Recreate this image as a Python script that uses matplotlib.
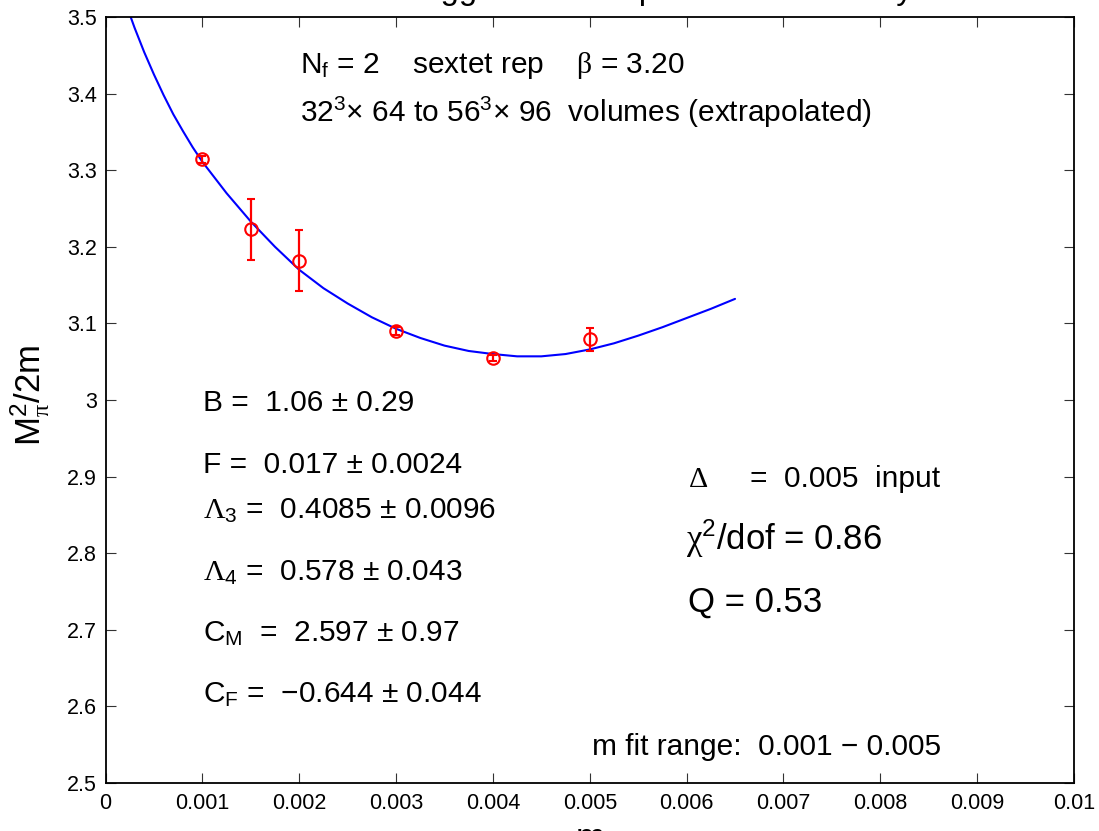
import matplotlib
matplotlib.use("Agg")
import matplotlib.pyplot as plt

plt.rcParams['font.family'] = ['Liberation Sans', 'DejaVu Sans']
plt.rcParams['mathtext.fontset'] = 'custom'
plt.rcParams['mathtext.rm'] = 'Liberation Sans'
plt.rcParams['mathtext.it'] = 'Liberation Sans:italic'
plt.rcParams['mathtext.bf'] = 'Liberation Sans:bold'
plt.rcParams['mathtext.sf'] = 'Liberation Serif'

# Data points with errors
data_m = [0.001, 0.0015, 0.002, 0.003, 0.004, 0.005]
data_y = [3.314, 3.223, 3.182, 3.090, 3.055, 3.079]
data_err = [0.004, 0.040, 0.040, 0.005, 0.004, 0.015]

# Fit curve
fit_m = [0.00026, 0.0003, 0.0004, 0.0005, 0.0006, 0.0007, 0.0008, 0.0009,
         0.001, 0.00125, 0.0015, 0.00175, 0.002, 0.00225, 0.0025, 0.00275,
         0.003, 0.00325, 0.0035, 0.00375, 0.004, 0.00425, 0.0045, 0.00475,
         0.005, 0.00525, 0.0055, 0.00575, 0.006, 0.00625, 0.0065]
fit_y = [3.500, 3.486, 3.454, 3.425, 3.398, 3.373, 3.351, 3.330,
         3.311, 3.270, 3.233, 3.200, 3.170, 3.146, 3.126, 3.108,
         3.093, 3.081, 3.071, 3.064, 3.060, 3.057, 3.057, 3.060,
         3.066, 3.074, 3.084, 3.095, 3.107, 3.119, 3.132]

xticks = [0, 0.001, 0.002, 0.003, 0.004, 0.005, 0.006, 0.007, 0.008, 0.009, 0.01]
xticklabels = ['0', '0.001', '0.002', '0.003', '0.004', '0.005', '0.006',
               '0.007', '0.008', '0.009', '0.01']
yticks = [2.5, 2.6, 2.7, 2.8, 2.9, 3.0, 3.1, 3.2, 3.3, 3.4, 3.5]
yticklabels = ['2.5', '2.6', '2.7', '2.8', '2.9', '3', '3.1', '3.2', '3.3', '3.4', '3.5']

W, H = 1099, 831
fig = plt.figure(figsize=(W / 100, H / 100), dpi=100)
ax = fig.add_axes([105.5 / W, 1 - 783 / H, (1074 - 105.5) / W, (783 - 17) / H])

ax.plot(fit_m, fit_y, color='#0000ff', lw=1.5, zorder=2,
        solid_joinstyle='round', solid_capstyle='round')
ax.errorbar(data_m, data_y, yerr=data_err, fmt='o', mfc='none', mec='#ff0000',
            ms=9, mew=1.5, ecolor='#ff0000', elinewidth=1.6, capsize=3,
            capthick=1.6, zorder=3)

ax.set_xlim(0, 0.01)
ax.set_ylim(2.5, 3.5)
ax.set_xticks(xticks)
ax.set_xticklabels(xticklabels)
ax.set_yticks(yticks)
ax.set_yticklabels(yticklabels)
ax.tick_params(direction='in', top=True, right=True, length=7, width=0.8,
               labelsize=15.5, color='#333333')
ax.tick_params(axis='x', pad=7)
ax.tick_params(axis='y', pad=6)
for s in ax.spines.values():
    s.set_linewidth(1.3)


def T(x, y, s, size=21.5, **kw):
    fig.text(x / W, 1 - y / H, s, fontsize=size, ha='left', va='baseline', **kw)


# title (mostly clipped at the top) and x label (mostly clipped at bottom)
fig.text(598 / W, 1 + 1 / H, 'Rooted staggered chiral perturbation theory',
         fontsize=23.5, ha='center', va='baseline')
fig.text(590 / W, 1 - 848 / H, 'm', fontsize=25, ha='center', va='baseline')

# y label
fig.text(30 / W, 1 - 395 / H, r'M$^2_{\mathsf{\pi}}$/2m', fontsize=25,
         rotation=90, ha='center', va='center')

T(300, 73, r'N$_\mathrm{f}$ = 2    sextet rep    $\mathsf{\beta}$ = 3.20')
T(300, 122, r'32$^3$× 64 to 56$^3$× 96  volumes (extrapolated)')

T(203, 411, 'B =  1.06 ± 0.29')
T(203, 473, 'F =  0.017 ± 0.0024')
T(203, 518, r'$\mathsf{\Lambda}_3$ =  0.4085 ± 0.0096')
T(203, 580, r'$\mathsf{\Lambda}_4$ =  0.578 ± 0.043')
T(203, 641, r'C$_\mathrm{M}$  =  2.597 ± 0.97')
T(203, 702, r'C$_\mathrm{F}$ =  −0.644 ± 0.044')

T(688, 487, r'$\mathsf{\Delta}$')
T(750, 487, '=  0.005  input')
T(686, 550, r'$\mathsf{\chi}^2$/dof = 0.86', size=25)
T(688, 612, 'Q = 0.53', size=25)
T(592, 755, 'm fit range:  0.001 − 0.005')

fig.savefig('out.png', dpi=100)
